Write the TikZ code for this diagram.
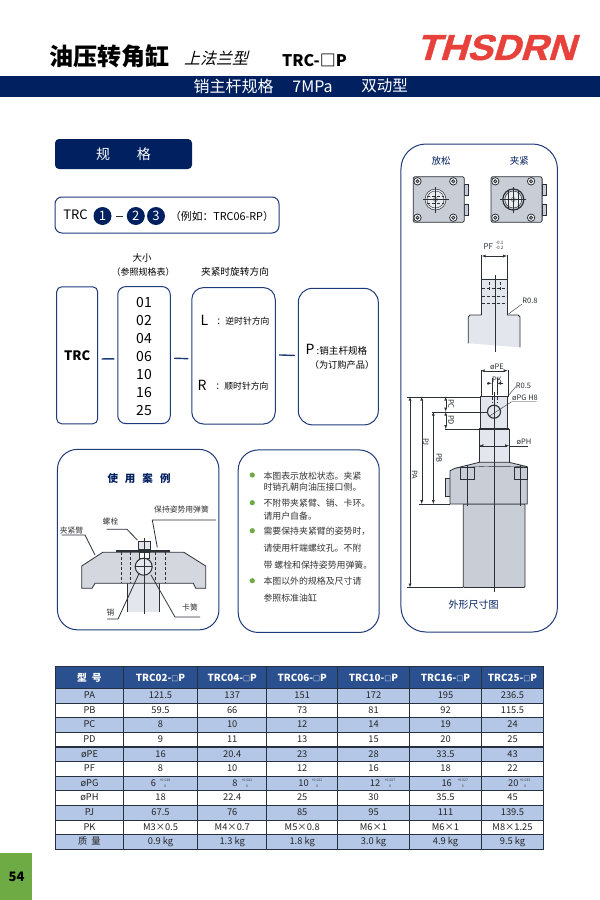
\documentclass[tikz,border=0pt]{standalone}
\usepackage{fontspec}
\setmainfont{Noto Sans CJK SC}
\newfontfamily\slantcjk[FakeSlant=0.25]{Noto Sans CJK SC}
\newfontfamily\logofont[FakeSlant=0.3,FakeStretch=1.06,FakeBold=1.2]{Liberation Sans}
\usetikzlibrary{positioning}
\newcommand{\fsz}[1]{\fontsize{#1}{#1}\selectfont}
\newcommand{\tinysq}{{\fsz{7}□}}
\definecolor{navy}{HTML}{002060}
\definecolor{boxblue}{HTML}{1F3A7A}
\definecolor{headblue}{HTML}{2A5090}
\definecolor{rowblue}{HTML}{B4C7E7}
\definecolor{celledge}{HTML}{26303E}
\definecolor{bodygrey}{HTML}{C9CDD6}
\definecolor{pingrey}{HTML}{E3E6EC}
\definecolor{linegrey}{HTML}{2B2F36}
\definecolor{leafgreen}{HTML}{6EAB45}
\definecolor{logored}{HTML}{E8413B}
\tikzset{
  every node/.style={inner sep=0pt},
  specbox/.style={draw=boxblue,line width=1pt,fill=white},
  flowdash/.style={draw=boxblue,line width=1.4pt,shorten <=3.5pt,shorten >=3pt},
  numdot/.style={circle,fill=navy,text=white,minimum size=18pt,font=\fsz{13}},
  dimline/.style={draw=linegrey,line width=0.4pt},
  dimarrow/.style={draw=linegrey,line width=0.4pt,<->,>=latex},
  partline/.style={draw=linegrey,line width=0.8pt},
  thinlabel/.style={text=linegrey,font=\fsz{7.5}},
  notetext/.style={anchor=west,text=black!80,font=\fsz{8.9}},
  partlabel/.style={text=black!80,font=\fsz{7.8}},
  speccell/.style={draw=celledge,line width=0.9pt,text=black!85,font=\fsz{9.3},text height=7pt,text depth=1.5pt},
  headcell/.style={draw=celledge,line width=1pt,fill=headblue,text=white,font=\bfseries\fsz{9.8}},
  tolnum/.style={text=black!80,font=\fsz{3.4},text height=2.6pt,text depth=0pt},
  topblock/.pic={
    \draw [partline,fill=bodygrey] (28.8,-15.5) rectangle (32.8,-4.5);
    \draw [partline,fill=bodygrey] (28.8,4.5) rectangle (32.8,15.5);
    \draw [partline,fill=bodygrey,rounded corners=2pt] (-22.3,-22.8) rectangle (28.8,22.8);
    \foreach \bx/\by in {-18/-18.2,17.8/-18.2,-18/18.2,17.8/18.2} {
      \draw [partline,fill=white] (\bx,\by) circle (3.7);
      \draw [partline,fill=bodygrey] (\bx,\by) circle (1.6);
    }
  }
}
\begin{document}
\begin{tikzpicture}[x=1pt,y=1pt]
      \useasboundingbox (0,0) rectangle (600,-900);
      \fill [white] (0,0) rectangle (600,-900);
      \node (maintitle) at (109,-56) {\bfseries\fsz{24}油压转角缸};
      \node (subtitle) at (216,-58) {\slantcjk\fsz{16}上法兰型};
      \node (typename) at (314.5,-60.5) {\bfseries\fsz{16}TRC-□P};
      \node (logo) at (495.5,-47.5) {\textcolor{logored}{\logofont\bfseries\fsz{36}THSDRN}};
      \fill [navy] (0,-75.5) rectangle (600,-97);
      \node [text=white] (bandspec) at (233.5,-86) {\fsz{16}销主杆规格};
      \node [text=white] (bandpress) at (312.5,-86.5) {\fsz{16}7MPa};
      \node [text=white] (bandact) at (384.5,-86) {\fsz{15.5}双动型};

      \node [fill=navy,rounded corners=4pt,minimum width=137pt,minimum height=30pt,text=white,font=\fsz{14}] (specbar) at (123.5,-154) {规\hspace{27pt}格};

      \node [specbox,rounded corners=7pt,minimum width=224pt,minimum height=36pt] (codebox) at (167,-215) {};
      \node (codetrc) at (75.5,-215) {\fsz{13}TRC};
      \node [numdot] (dotone) at (102.5,-216) {1};
      \node [numdot] (dottwo) at (135.8,-216) {2};
      \node [numdot] (dotthree) at (156,-216) {3};
      \draw [draw=linegrey,line width=0.8pt,shorten <=4pt,shorten >=4pt] (dotone) -- (dottwo);
      \node (codeeg) at (222,-216) {\fsz{10.8}（例如：TRC06-RP）};

      \node [specbox,rounded corners=5pt,minimum width=41pt,minimum height=137pt] (trcbox) at (77.2,-355.3) {\bfseries\fsz{13}TRC};
      \node [specbox,rounded corners=8pt,minimum width=52.5pt,minimum height=137pt] (sizebox) at (144,-355.1) {};
      \node [specbox,rounded corners=12pt,minimum width=83.5pt,minimum height=136.5pt] (dirbox) at (233.5,-355.8) {};
      \node [specbox,rounded corners=14pt,minimum width=80pt,minimum height=136.5pt] (pinbox) at (338.3,-356.6) {};
      \draw [flowdash] ([yshift=-3.7pt]trcbox.east) -- ([yshift=-3.7pt]sizebox.west);
      \draw [flowdash] ([yshift=-3pt]sizebox.east) -- ([yshift=-3pt]dirbox.west);
      \draw [flowdash] ([yshift=1pt]dirbox.east) -- ([yshift=1pt]pinbox.west);
      \foreach \num/\numy in {01/302.5,02/320.5,04/338.5,06/356.5,10/374.5,16/392.5,25/410.5} {
        \node [font=\fsz{14}] (size\num) at (144,-\numy) {\num};
      }
      \node (sizehead) at (142,-258) {\fsz{9.5}大小};
      \node (sizenote) at (143,-272.5) {\fsz{9}（参照规格表）};
      \node (dirhead) at (235,-272) {\fsz{9.7}夹紧时旋转方向};
      \node (leftkey) at (204.5,-320) {\fsz{14}L};
      \node (lefttext) at (243,-321) {\fsz{8.8}：逆时针方向};
      \node (rightkey) at (202,-385) {\fsz{14}R};
      \node (righttext) at (242,-386) {\fsz{8.8}：顺时针方向};
      \node (pinkey) at (310,-349) {\fsz{14}P};
      \node (pintext) at (342,-350.5) {\fsz{9.6}:销主杆规格};
      \node (pinnote) at (342,-364.5) {\fsz{9.2}（为订购产品）};

      \node [specbox,rounded corners=20pt,minimum width=161.5pt,minimum height=180.5pt] (casebox) at (138.2,-539.6) {};
      \node [text=navy] (casehead) at (139,-478) {\bfseries\fsz{10.5}使\hspace{7pt}用\hspace{7pt}案\hspace{7pt}例};
      \fill [pingrey] (127.7,-583) rectangle (159.3,-611.7);
      \draw [partline,line width=0.5pt] (127.7,-583) -- (127.7,-611.7);
      \draw [partline,line width=0.5pt] (159.3,-583) -- (159.3,-611.7);
      \draw [partline,fill=bodygrey!80] (81.7,-566) -- (102.7,-552.3) -- (184,-552.3) -- (205.7,-566) -- (205.7,-588.3) -- (195.7,-588.3) -- (193.3,-583.3) -- (95,-583.3) -- (92,-588.3) -- (81.7,-588.3) -- cycle;
      \foreach \hx in {120.7,130,155,165} {
        \draw [dimline,densely dashed] (\hx,-552.3) -- (\hx,-583.3);
      }
      \fill [linegrey] (116,-549.5) rectangle (170,-552.3);
      \draw [partline,fill=pingrey] (138.3,-541) rectangle (150.7,-549.5);
      \draw [partline,fill=white] (139,-552.3) rectangle (149,-558);
      \draw [partline,line width=1pt,fill=pingrey] (143.7,-566.7) circle (8.5);
      \draw [partline] (135.2,-566.7) -- (152.2,-566.7);
      \draw [dimline] (144,-538) -- (144,-614);
      \node [partlabel] (armlabel) at (71.5,-531) {夹紧臂};
      \coordinate (armfoot) at (95,-555);
      \draw [partline] (61.5,-535) -- (85,-535) -- (armfoot);
      \node [partlabel] (boltlabel) at (110.5,-522) {螺栓};
      \coordinate (boltfoot) at (137.3,-540);
      \draw [partline] (106.5,-529.3) -- (127,-529.3) -- (boltfoot);
      \node [partlabel] (springlabel) at (181.5,-510) {保持姿势用弹簧};
      \coordinate (springfoot) at (157.3,-547.5);
      \draw [partline] (216,-520) -- (152.3,-520) -- (springfoot);
      \node [partlabel] (pinlabel) at (110.5,-613) {销};
      \coordinate (pinfoot) at (139.3,-573);
      \draw [partline] (107,-619) -- (118,-619) -- (pinfoot);
      \node [partlabel] (ringlabel) at (190,-608) {卡簧};
      \coordinate (ringfoot) at (151,-575);
      \draw [partline] (200,-617) -- (175,-617) -- (ringfoot);

      \node [specbox,rounded corners=20pt,minimum width=141pt,minimum height=182.5pt] (notebox) at (308.7,-541.2) {};
      \foreach \doty in {475,502.7,530.7,580.7} {
        \fill [leafgreen] (252.3,-\doty) circle (2.6);
      }
      \node [notetext] (noteone) at (263.3,-475.7) {本图表示放松状态。夹紧};
      \node [notetext] (notetwo) at (263.3,-487.5) {时销孔朝向油压接口侧。};
      \node [notetext] (notethree) at (263.3,-503.3) {不附带夹紧臂、销、卡环。};
      \node [notetext] (notefour) at (263.3,-516) {请用户自备。};
      \node [notetext] (notefive) at (263.3,-531) {需要保持夹紧臂的姿势时，};
      \node [notetext] (notesix) at (263.3,-547.7) {请使用杆端螺纹孔。不附};
      \node [notetext] (noteseven) at (263.3,-565) {带 螺栓和保持姿势用弹簧。};
      \node [notetext] (noteeight) at (263.3,-581) {本图以外的规格及尺寸请};
      \node [notetext] (notenine) at (263.3,-598.3) {参照标准油缸};

      \node [specbox,rounded corners=25pt,minimum width=156.5pt,minimum height=488pt] (drawbox) at (479.2,-388) {};
      \node [text=navy] (looselabel) at (441,-161) {\fsz{9.5}放松};
      \node [text=navy] (clamplabel) at (519.3,-161) {\fsz{9.5}夹紧};
      \pic at (435.5,-199.5) {topblock};
      \pic at (513.3,-199.5) {topblock};
      \draw [partline,line width=0.5pt,fill=white!60!bodygrey] (435.5,-199.5) circle (10.5);
      \draw [partline,line width=0.4pt] (435.5,-199.5) circle (8.5);
      \draw [dimline,densely dashed] (427,-196) -- (444,-196);
      \draw [dimline,densely dashed] (427,-203) -- (444,-203);
      \draw [dimline] (435.5,-199.5) circle (2);
      \draw [dimline] (422.5,-199.5) -- (448.5,-199.5);
      \draw [dimline] (435.5,-212.5) -- (435.5,-186.5);
      \draw [partline,line width=1.2pt] (513.3,-199.5) circle (10.5);
      \draw [partline,line width=0.5pt,fill=white!60!bodygrey] (513.3,-199.5) circle (8.5);
      \draw [dimline] (508,-208) -- (508,-191);
      \draw [dimline] (518.6,-208) -- (518.6,-191);
      \draw [dimline] (513.3,-199.5) circle (2);
      \draw [dimline] (500.3,-199.5) -- (526.3,-199.5);
      \draw [dimline] (513.3,-212.5) -- (513.3,-186.5);

      \fill [pingrey] (481.7,-279.3) rectangle (507,-315);
      \fill [pingrey] (468.3,-315) -- (520,-315) -- (520,-347.3) -- (468.3,-343.3) -- cycle;
      \draw [partline] (481.7,-255) -- (481.7,-315);
      \draw [partline] (507,-255) -- (507,-315);
      \draw [partline,line width=1.4pt] (481.7,-279.3) -- (507,-279.3);
      \draw [partline] (468.3,-343.3) -- (468.3,-317) -- (470,-315) -- (481.7,-315);
      \draw [partline] (507,-315) -- (518,-315) -- (520,-317) -- (520,-347.3);
      \foreach \hy in {288.3,295.7,303.3} {
        \draw [dimline,densely dashed] (481.7,-\hy) -- (507,-\hy);
      }
      \foreach \hx in {489,500} {
        \draw [dimline,densely dashed] (\hx,-282) -- (\hx,-291);
      }
      \draw [dimline] (494.7,-275) -- (494.7,-351.7);
      \draw [dimarrow] (481.7,-256) -- (507,-256);
      \node [thinlabel] (pflabel) at (488.3,-247) {\fsz{8}PF};
      \node [tolnum,font=\fsz{4.6}] (pfup) at (499.5,-243) {-0.1};
      \node [tolnum,font=\fsz{4.6}] (pfdown) at (499.5,-248.5) {-0.2};
      \node [thinlabel] (r8label) at (530,-300.5) {R0.8};
      \draw [dimline] (508.5,-314) -- (522,-304);

      \draw [partline,fill=pingrey] (480.7,-396.7) rectangle (507.3,-429);
      \draw [partline,fill=pingrey] (479.3,-429) rectangle (509,-463);
      \draw [partline,line width=1.4pt] (479.3,-429) -- (509,-429);
      \draw [partline,fill=bodygrey] (445.7,-478.3) rectangle (450,-496.7);
      \draw [partline,fill=bodygrey,rounded corners=1pt] (463.3,-504) rectangle (525,-587.5);
      \draw [partline,fill=bodygrey] (450,-470.7) -- (455,-468.3) -- (479.3,-462.3) -- (509,-462.3) -- (527.3,-466.7) -- (527.3,-504) -- (450,-504) -- cycle;
      \draw [partline,fill=bodygrey] (460.7,-467) rectangle (474,-479.3);
      \draw [partline,fill=bodygrey] (514.3,-467) rectangle (527.3,-479.3);
      \draw [dimline] (456,-468) .. controls (480,-466) and (508,-466) .. (527,-467);
      \draw [partline] (467.7,-465) -- (467.7,-506);
      \draw [partline] (520.7,-465) -- (520.7,-506);
      \draw [partline,line width=0.9pt] (494,-392) -- (494,-591.7);
      \draw [dimline,densely dashed] (479.3,-445.7) -- (509,-445.7);
      \draw [partline,line width=1.1pt] (494,-411.7) circle (6.5);
      \draw [dimline] (407.3,-396.7) -- (480.7,-396.7);
      \draw [dimline] (431.7,-411.7) -- (487.5,-411.7);
      \draw [dimline] (445,-429) -- (479.3,-429);
      \draw [dimline] (419.3,-504) -- (450,-504);
      \draw [dimline] (407.3,-587.5) -- (463.3,-587.5);
      \draw [dimarrow] (410,-396.7) -- (410,-587.5);
      \draw [dimarrow] (421.7,-396.7) -- (421.7,-504);
      \draw [dimarrow] (433.3,-411.7) -- (433.3,-504);
      \draw [dimarrow] (445.7,-396.7) -- (445.7,-411.7);
      \draw [dimarrow] (445.7,-411.7) -- (445.7,-429);
      \node [thinlabel,rotate=-90] (palabel) at (414.5,-475) {PA};
      \node [thinlabel,rotate=-90] (pjlabel) at (425.7,-442) {PJ};
      \node [thinlabel,rotate=-90] (pblabel) at (439,-458) {PB};
      \node [thinlabel,rotate=-90] (pclabel) at (451,-404) {PC};
      \node [thinlabel,rotate=-90] (pdlabel) at (451,-420) {PD};
      \draw [dimline] (480.7,-369.5) -- (480.7,-396.7);
      \draw [dimline] (507.7,-369.5) -- (507.7,-396.7);
      \draw [dimarrow] (480.7,-370.7) -- (507.7,-370.7);
      \node [thinlabel] (pelabel) at (497,-366.5) {øPE};
      \draw [dimline,->,>=latex] (487.3,-383.3) -- (491.7,-383.3);
      \draw [dimline,->,>=latex] (503.3,-383.3) -- (497,-383.3);
      \draw [dimline] (491.7,-378) -- (491.7,-392);
      \draw [dimline] (497,-378) -- (497,-392);
      \draw [dimline,densely dashed] (491.7,-392) -- (491.7,-403);
      \draw [dimline,densely dashed] (497,-392) -- (497,-403);
      \node [thinlabel] (pklabel) at (497,-379.5) {PK};
      \node [thinlabel] (r5label) at (523.5,-385.3) {R0.5};
      \draw [dimline] (508,-396) -- (516,-386.5);
      \node [thinlabel] (pglabel) at (525,-397.5) {øPG H8};
      \draw [dimline] (489.5,-416) -- (511.7,-401.7) -- (536.7,-401.7);
      \draw [dimarrow] (479.3,-445.7) -- (509,-445.7);
      \draw [dimline] (509,-445.7) -- (527.7,-445.7);
      \node [thinlabel] (phlabel) at (524,-441.8) {øPH};
      \node [text=navy] (outlinelabel) at (473.5,-605) {\fsz{10}外形尺寸图};

      \foreach \colx/\colw/\colt in {89.5/67.6/型\hspace{5pt}号,160.5/74.4/TRC02-\tinysq P,232.2/69/TRC04-\tinysq P,302.2/71/TRC06-\tinysq P,373.5/71.6/TRC10-\tinysq P,445.5/72.4/TRC16-\tinysq P,512.5/61.6/TRC25-\tinysq P} {
        \node [headcell,minimum width=\colw pt,minimum height=21.5pt] (head\colx) at (\colx,-677.5) {\colt};
      }
      \foreach \rowid/\rowy/\rowfill/\a/\b/\c/\d/\e/\f/\g in {
        1/695.7/rowblue/PA/121.5/137/151/172/195/236.5,
        2/710.3/white/PB/59.5/66/73/81/92/115.5,
        3/725/rowblue/PC/8/10/12/14/19/24,
        4/739.6/white/PD/9/11/13/15/20/25,
        5/754.3/rowblue/øPE/16/20.4/23/28/33.5/43,
        6/769/white/PF/8/10/12/16/18/22,
        7/783.5/rowblue/øPG/{}/{}/{}/{}/{}/{},
        8/798.2/white/øPH/18/22.4/25/30/35.5/45,
        9/812.8/rowblue/PJ/67.5/76/85/95/111/139.5,
        10/827.4/white/PK/M3×0.5/M4×0.7/M5×0.8/M6×1/M6×1/M8×1.25,
        11/842/rowblue/质\hspace{4pt}量/0.9 kg/1.3 kg/1.8 kg/3.0 kg/4.9 kg/9.5 kg} {
        \foreach \colx/\colw/\colv in {89.5/67.6/\a,160.5/74.4/\b,232.2/69/\c,302.2/71/\d,373.5/71.6/\e,445.5/72.4/\f,512.5/61.6/\g} {
          \node [speccell,fill=\rowfill,minimum width=\colw pt,minimum height=14.63pt] (cell\rowid at \colx) at (\colx,-\rowy) {\colv};
        }
      }
      \foreach \valx/\tolx/\val/\tol in {153.5/165/6/018,235/247/8/022,303.5/317/10/022,375/390/12/027,446.7/462.7/16/027,513.3/525/20/033} {
        \node [font=\fsz{9.3},text=black!85] (tolval\val) at (\valx,-783.5) {\val};
        \node [tolnum] (tolup\val) at (\tolx,-779.8) {+0.\tol};
        \node [tolnum] (tollow\val) at (\tolx,-786.6) {0};
      }
      \draw [draw=celledge,line width=1.3pt] (55.7,-666.8) rectangle (543.3,-849.3);

      \fill [leafgreen] (0,-852.7) rectangle (32,-900);
      \node (pagenum) at (16.5,-876.5) {\bfseries\fsz{13}54};
\end{tikzpicture}
\end{document}
